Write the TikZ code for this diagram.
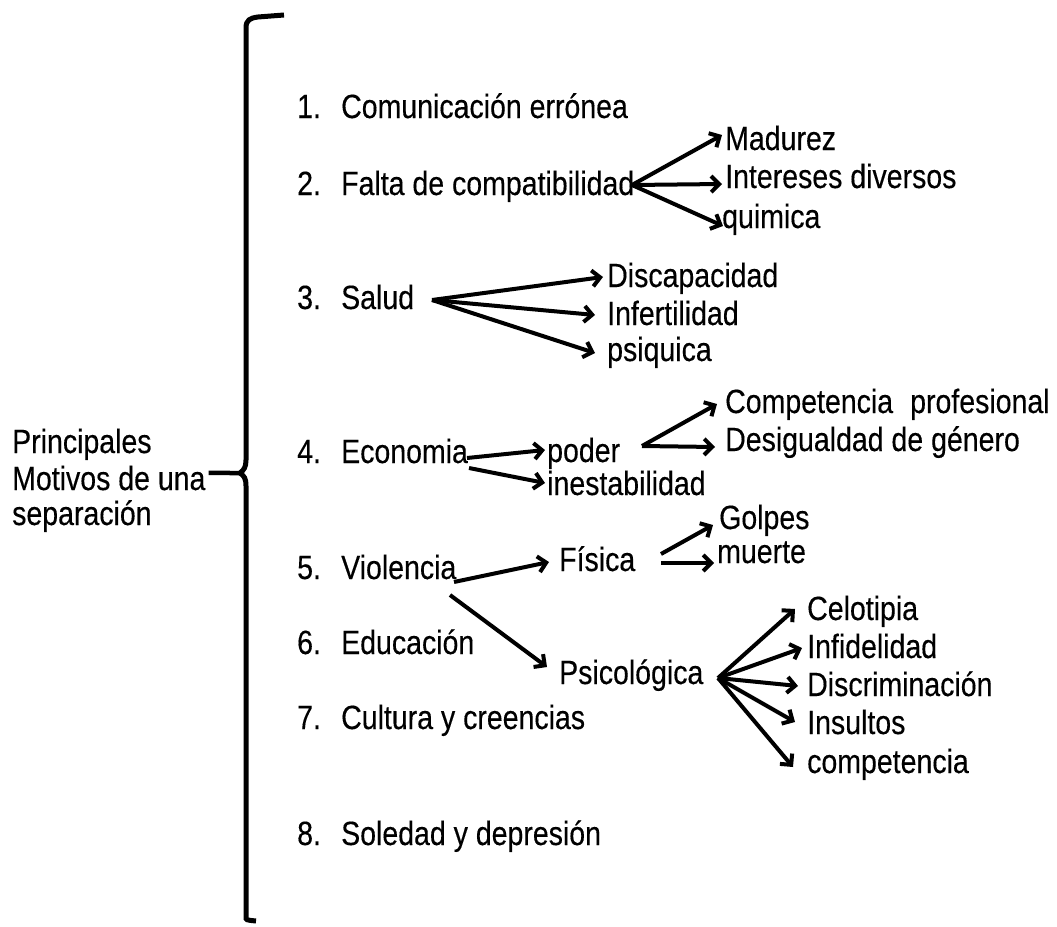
\documentclass[tikz,border=0pt]{standalone}
\usepackage{fontspec}
\setmainfont{Liberation Sans}
\newfontfamily\lblfont{Liberation Sans}[FakeBold=0.3]
\usetikzlibrary{arrows.meta,calc}
\newcommand{\tx}[1]{\scalebox{1}[1.18]{#1}}
\begin{document}
\begin{tikzpicture}[x=1pt,y=-1pt,
  lbl/.style={anchor=base west,inner sep=0pt,font={\lblfont\fontsize{28.5}{34}\selectfont}},
  arr/.style={line width=4pt,-{Straight Barb[length=8pt,width=16pt]}},
  bracestyle/.style={line width=5pt}]
\useasboundingbox (0,0) rectangle (1057,926);
\fill[white] (0,0) rectangle (1057,926);

% left title
\node[lbl] (princ) at (12,453) {\tx{Principales}};
\node[lbl] (motivos) at (12,490) {\tx{Motivos de una}};
\node[lbl] (separ) at (12,525) {\tx{separación}};

% brace
\coordinate (cusp) at (240,473);
\coordinate (btop) at (284,15);
\coordinate (bbot) at (256,921);
\draw[bracestyle] (btop) -- (258,17) .. controls (250,18) and (246,20) .. (246,28) -- (246,460) .. controls (246,467) and (244,470) .. (cusp) .. controls (244,476) and (246,478) .. (246,486) -- (246,917) .. controls (246,920) .. (bbot);
\draw[line width=4.5pt] ([shift={(3,-5)}]motivos.east) -- (cusp);

% numbered items
\node[lbl] (n1) at (297,118) {\tx{1.}};
\node[lbl] (i1) at (341,118) {\tx{Comunicación errónea}};
\node[lbl] (n2) at (297,195) {\tx{2.}};
\node[lbl] (i2) at (341,195) {\tx{Falta de compatibilidad}};
\node[lbl] (n3) at (297,309) {\tx{3.}};
\node[lbl] (i3) at (341,309) {\tx{Salud}};
\node[lbl] (n4) at (297,463) {\tx{4.}};
\node[lbl] (i4) at (341,463) {\tx{Economia}};
\node[lbl] (n5) at (297,579) {\tx{5.}};
\node[lbl] (i5) at (341,579) {\tx{Violencia}};
\node[lbl] (n6) at (297,654) {\tx{6.}};
\node[lbl] (i6) at (341,654) {\tx{Educación}};
\node[lbl] (n7) at (297,729) {\tx{7.}};
\node[lbl] (i7) at (341,729) {\tx{Cultura y creencias}};
\node[lbl] (n8) at (297,845) {\tx{8.}};
\node[lbl] (i8) at (341,845) {\tx{Soledad y depresión}};

% branch 2
\node[lbl] (madurez) at (725,150) {\tx{Madurez}};
\node[lbl] (intereses) at (725,188) {\tx{Intereses diversos}};
\node[lbl] (quimica) at (722,228) {\tx{quimica}};
% branch 3
\node[lbl] (discap) at (607,287) {\tx{Discapacidad}};
\node[lbl] (infert) at (607,325) {\tx{Infertilidad}};
\node[lbl] (psiq) at (607,361) {\tx{psiquica}};
% branch 4
\node[lbl] (poder) at (547,462) {\tx{poder}};
\node[lbl] (inest) at (547,495) {\tx{inestabilidad}};
\node[lbl] (compprof) at (725,413) {\tx{Competencia\hspace{0.6em}profesional}};
\node[lbl] (desig) at (725,451) {\tx{Desigualdad de género}};
% branch 5
\node[lbl] (fisica) at (559,571) {\tx{Física}};
\node[lbl] (psico) at (559,684) {\tx{Psicológica}};
\node[lbl] (golpes) at (719,529) {\tx{Golpes}};
\node[lbl] (muerte) at (717,563) {\tx{muerte}};
\node[lbl] (celot) at (807,620) {\tx{Celotipia}};
\node[lbl] (infid) at (807,658) {\tx{Infidelidad}};
\node[lbl] (discr) at (807,696) {\tx{Discriminación}};
\node[lbl] (insul) at (807,734) {\tx{Insultos}};
\node[lbl] (compet) at (807,773) {\tx{competencia}};

% arrows: branch 2
\coordinate (s2) at (632,185);
\draw[arr] (s2) -- ([shift={(-3,-15)}]madurez.base west);
\draw[arr] (s2) -- ([shift={(-3,-4)}]intereses.base west);
\draw[arr] (s2) -- ([shift={(1,-2)}]quimica.base west);
% branch 3
\coordinate (s3) at (432,300);
\draw[arr] (s3) -- ([shift={(-4,-10)}]discap.base west);
\draw[arr] (s3) -- ([shift={(-12,-10)}]infert.base west);
\draw[arr] (s3) -- ([shift={(-12,-8)}]psiq.base west);
% branch 4
\draw[arr] ([shift={(126,-5)}]i4.base west) -- ([shift={(-2,-12)}]poder.base west);
\draw[arr] ([shift={(128,5)}]i4.base west) -- ([shift={(-2,-12)}]inest.base west);
\coordinate (s4) at (642,446);
\draw[arr] (s4) -- ([shift={(-8,-9)}]compprof.base west);
\draw[arr] (s4) -- ([shift={(-10,-4)}]desig.base west);
% branch 5
\draw[arr] ([shift={(113,3)}]i5.base west) -- ([shift={(-10,-9)}]fisica.base west);
\draw[arr] ([shift={(109,16)}]i5.base west) -- ([shift={(-12,-17)}]psico.base west);
\coordinate (sf) at (661,554);
\coordinate (sf2) at (661,563);
\draw[arr] (sf) -- ([shift={(-6,-4)}]golpes.base west);
\draw[arr] (sf2) -- ([shift={(-3,0)}]muerte.base west);
\coordinate (sp) at (718,678);
\draw[arr] (sp) -- ([shift={(-12,-11)}]celot.base west);
\draw[arr] (sp) -- ([shift={(-5,-10)}]infid.base west);
\draw[arr] (sp) -- ([shift={(-9,-10)}]discr.base west);
\draw[arr] (sp) -- ([shift={(-12,-12)}]insul.base west);
\draw[arr] (sp) -- ([shift={(-14,-6)}]compet.base west);
\end{tikzpicture}
\end{document}
